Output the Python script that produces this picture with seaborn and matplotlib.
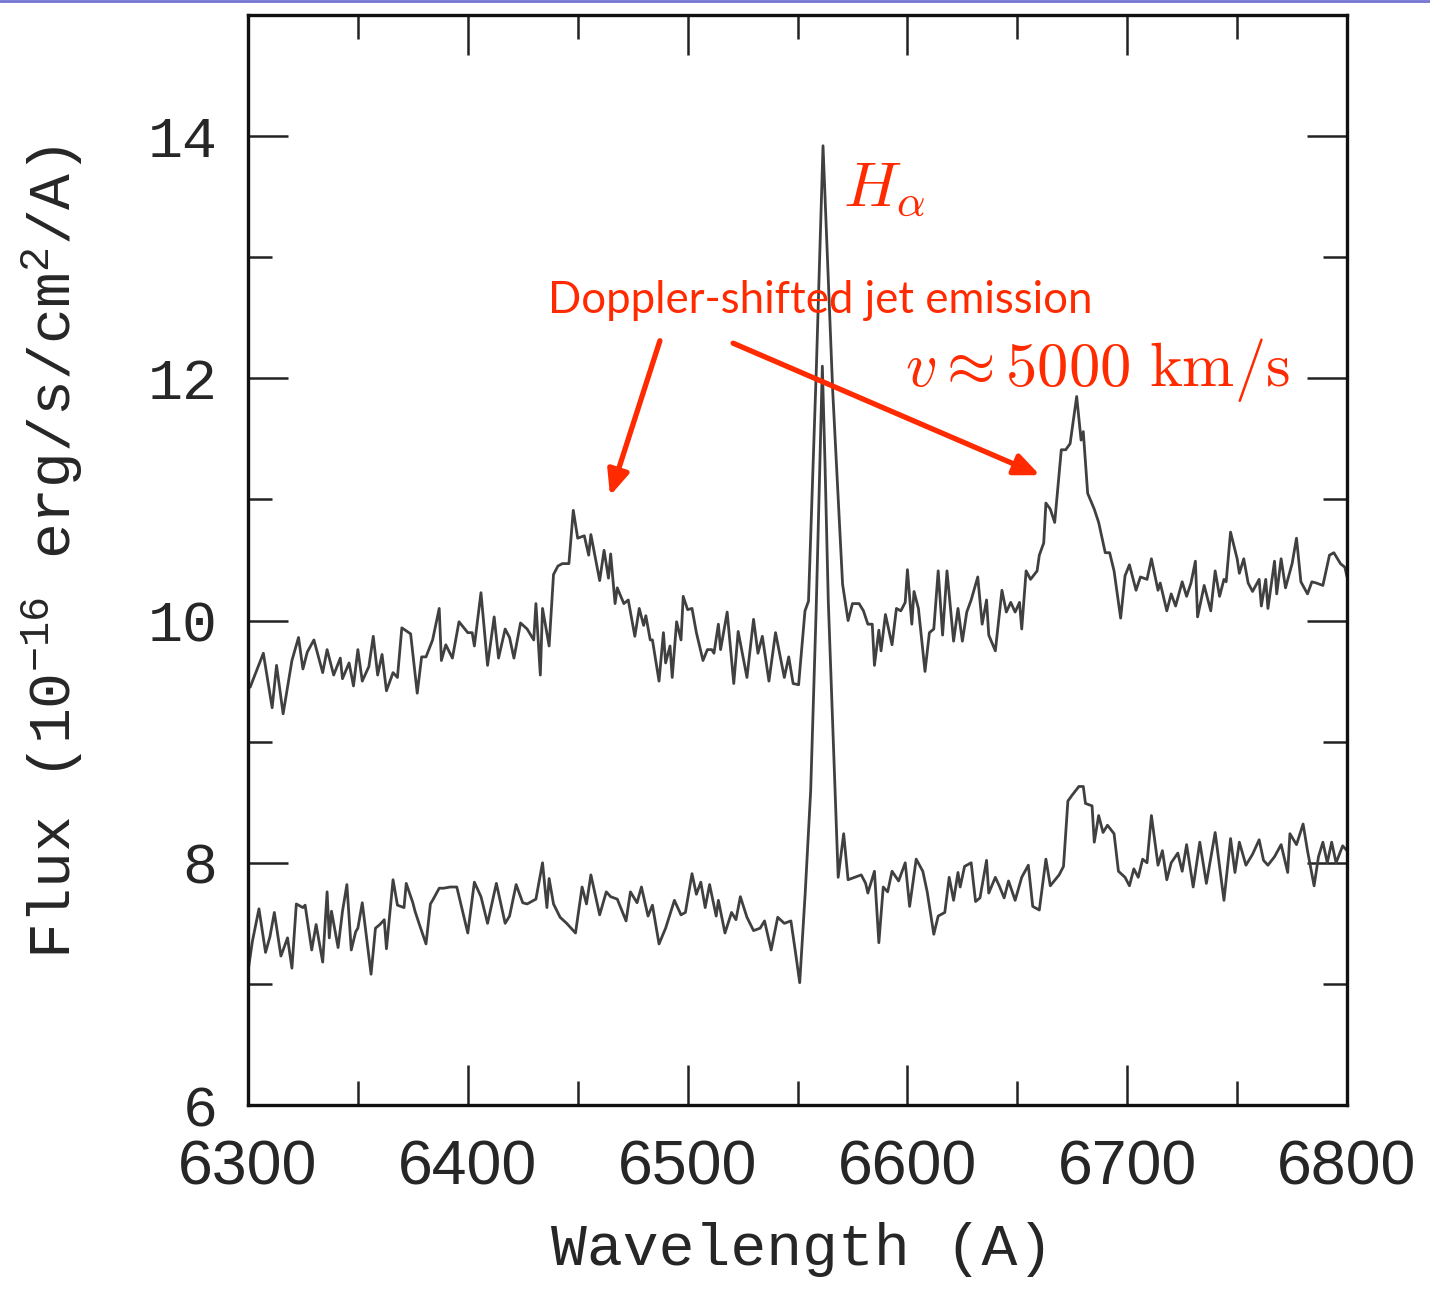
import numpy as np
import pandas as pd
import matplotlib
matplotlib.use("Agg")
import matplotlib.pyplot as plt
from matplotlib.lines import Line2D
import seaborn as sns

# Upper spectrum (with jet lines)
wl_top = [6300, 6301, 6307, 6311, 6313, 6316, 6320, 6323, 6325, 6327, 6330, 6334, 6336, 6339,
          6342, 6343, 6346, 6348, 6350, 6352, 6355, 6357, 6359, 6361, 6363, 6366, 6368, 6370,
          6374, 6377, 6379, 6381, 6384, 6387, 6388, 6390, 6393, 6396, 6400, 6402, 6403, 6406,
          6409, 6412, 6414, 6417, 6419, 6421, 6424, 6427, 6430, 6431, 6433, 6434, 6437, 6439,
          6441, 6443, 6446, 6448, 6450, 6453, 6455, 6456, 6460, 6462, 6464, 6465, 6467, 6468,
          6471, 6473, 6476, 6478, 6480, 6481, 6483, 6484, 6487, 6489, 6490, 6492, 6493, 6495,
          6497, 6498, 6500, 6502, 6504, 6507, 6509, 6511, 6512, 6514, 6515, 6518, 6521, 6523,
          6527, 6530, 6532, 6534, 6537, 6540, 6544, 6546, 6548, 6550.5, 6553.4, 6555, 6558.6,
          6561.6, 6566, 6570.5, 6572, 6573, 6575, 6578, 6580, 6582, 6584, 6585, 6587, 6588,
          6590, 6593, 6595, 6597, 6599, 6600, 6602, 6603, 6605, 6608, 6610, 6612, 6614, 6616,
          6618, 6621, 6623, 6625, 6627, 6629, 6632, 6634, 6636, 6637, 6640, 6643, 6645, 6647,
          6649, 6651, 6652, 6654, 6656, 6659, 6660, 6662, 6663, 6665, 6667, 6670, 6672, 6674,
          6677, 6679, 6680, 6682, 6685, 6687, 6690, 6692, 6694, 6697, 6699, 6701, 6704, 6706,
          6709, 6711, 6714, 6715, 6718, 6720, 6722, 6725, 6727, 6729, 6731, 6732, 6735, 6738,
          6740, 6742, 6744, 6745, 6747, 6750, 6751, 6753, 6755, 6757, 6760, 6761, 6763, 6764,
          6767, 6768, 6770, 6772, 6775, 6777, 6779, 6782, 6784, 6786, 6789, 6792, 6794, 6797,
          6799, 6800]
flux_top = [9.48, 9.45, 9.73, 9.28, 9.63, 9.23, 9.67, 9.86, 9.60, 9.74, 9.84, 9.57, 9.76, 9.55,
            9.69, 9.52, 9.65, 9.46, 9.76, 9.50, 9.62, 9.87, 9.55, 9.72, 9.42, 9.57, 9.53, 9.94,
            9.89, 9.40, 9.70, 9.70, 9.84, 10.10, 9.67, 9.80, 9.69, 9.99, 9.90, 9.90, 9.79, 10.23,
            9.63, 10.03, 9.69, 9.93, 9.86, 9.69, 9.98, 9.93, 9.84, 10.14, 9.55, 10.10, 9.79, 10.38,
            10.45, 10.47, 10.47, 10.91, 10.68, 10.70, 10.54, 10.71, 10.33, 10.58, 10.35, 10.55, 10.14, 10.27,
            10.14, 10.17, 9.87, 10.10, 9.96, 10.04, 9.84, 9.84, 9.50, 9.90, 9.65, 9.79, 9.53, 9.99,
            9.84, 10.20, 10.09, 10.10, 9.90, 9.67, 9.76, 9.76, 9.73, 9.97, 9.76, 10.07, 9.48, 9.91,
            9.53, 10.01, 9.73, 9.87, 9.50, 9.90, 9.53, 9.70, 9.48, 9.47, 10.08, 10.16, 12.10,
            13.92, 11.90, 10.30, 10.12, 10.00, 10.14, 10.14, 10.08, 9.97, 9.97, 9.63, 9.92, 9.75,
            10.05, 9.80, 10.10, 10.08, 10.15, 10.42, 9.97, 10.24, 10.10, 9.58, 9.90, 9.93, 10.41, 9.88,
            10.41, 9.83, 10.10, 9.83, 10.07, 10.17, 10.36, 9.97, 10.17, 9.88, 9.75, 10.25, 10.07, 10.15,
            10.07, 10.15, 9.93, 10.41, 10.34, 10.41, 10.54, 10.64, 10.97, 10.92, 10.81, 11.41, 11.41, 11.46,
            11.85, 11.49, 11.56, 11.05, 10.92, 10.81, 10.56, 10.56, 10.41, 10.02, 10.37, 10.46, 10.25, 10.36,
            10.34, 10.51, 10.25, 10.31, 10.08, 10.22, 10.12, 10.32, 10.20, 10.31, 10.49, 10.03, 10.29, 10.08,
            10.41, 10.20, 10.34, 10.32, 10.73, 10.51, 10.39, 10.51, 10.31, 10.24, 10.34, 10.12, 10.34, 10.10,
            10.49, 10.22, 10.51, 10.27, 10.47, 10.68, 10.32, 10.22, 10.32, 10.31, 10.29, 10.54, 10.56, 10.47,
            10.44, 10.36]

# Lower spectrum
wl_bot = [6300, 6302, 6305, 6308, 6310, 6312, 6315, 6318, 6320, 6322, 6325, 6326, 6329, 6331,
          6334, 6336, 6337, 6338, 6341, 6343, 6345, 6347, 6349, 6350, 6352, 6356, 6358, 6360,
          6362, 6363, 6366, 6368, 6371, 6372, 6375, 6376, 6378, 6381, 6383, 6384, 6387, 6389,
          6392, 6395, 6400, 6403, 6406, 6409, 6413, 6417, 6419, 6422, 6425, 6427, 6431, 6434,
          6436, 6437, 6439, 6442, 6445, 6449, 6452, 6454, 6456, 6460, 6463, 6465, 6468, 6472,
          6474, 6477, 6479, 6482, 6484, 6487, 6490, 6494, 6497, 6499, 6502, 6504, 6506, 6508,
          6510, 6513, 6514, 6517, 6520, 6522, 6524, 6527, 6530, 6533, 6535, 6538, 6541, 6544,
          6547, 6549, 6551, 6553.5, 6556, 6558.5, 6561.3, 6562.5, 6564, 6568.5, 6571, 6573, 6576,
          6579, 6581, 6582, 6585, 6587, 6589, 6591, 6593, 6596, 6599, 6601, 6604, 6607, 6609,
          6612, 6614, 6617, 6619, 6621, 6623, 6624, 6626, 6629, 6631, 6633, 6636, 6637, 6640,
          6642, 6644, 6646, 6649, 6652, 6655, 6657, 6660, 6663, 6665, 6669, 6671, 6673, 6675,
          6678, 6680, 6681, 6684, 6685, 6687, 6689, 6691, 6694, 6696, 6699, 6701, 6703, 6705,
          6707, 6709, 6711, 6714, 6716, 6718, 6720, 6723, 6725, 6727, 6730, 6733, 6736, 6740,
          6744, 6747, 6749, 6751, 6754, 6757, 6760, 6762, 6764, 6767, 6770, 6773, 6774, 6777,
          6780, 6782, 6785, 6787, 6789, 6791, 6793, 6795, 6798, 6800]
flux_bot = [7.10, 7.35, 7.62, 7.26, 7.39, 7.59, 7.23, 7.38, 7.13, 7.66, 7.63, 7.65, 7.28, 7.49,
            7.18, 7.76, 7.38, 7.60, 7.30, 7.60, 7.82, 7.28, 7.43, 7.46, 7.67, 7.08, 7.46, 7.49,
            7.53, 7.29, 7.86, 7.65, 7.63, 7.83, 7.67, 7.60, 7.49, 7.33, 7.66, 7.69, 7.79, 7.79,
            7.80, 7.80, 7.42, 7.84, 7.72, 7.50, 7.83, 7.50, 7.56, 7.82, 7.67, 7.66, 7.70, 8.00,
            7.63, 7.87, 7.66, 7.55, 7.50, 7.42, 7.80, 7.66, 7.90, 7.57, 7.76, 7.72, 7.70, 7.52,
            7.76, 7.67, 7.80, 7.56, 7.65, 7.33, 7.46, 7.69, 7.57, 7.59, 7.91, 7.74, 7.84, 7.63,
            7.82, 7.56, 7.69, 7.42, 7.59, 7.53, 7.72, 7.55, 7.44, 7.46, 7.52, 7.28, 7.55, 7.50,
            7.52, 7.27, 7.01, 7.75, 8.60, 10.10, 12.10, 11.30, 10.16, 7.88, 8.24, 7.86, 7.88,
            7.90, 7.83, 7.75, 7.93, 7.34, 7.80, 7.76, 7.93, 7.85, 8.00, 7.64, 8.03, 7.93, 7.76,
            7.41, 7.56, 7.59, 7.88, 7.69, 7.92, 7.80, 7.97, 8.00, 7.68, 7.71, 8.02, 7.75, 7.88,
            7.80, 7.71, 7.85, 7.69, 7.88, 7.98, 7.64, 7.61, 8.03, 7.81, 7.90, 7.97, 8.51, 8.56,
            8.63, 8.63, 8.49, 8.47, 8.17, 8.39, 8.25, 8.31, 8.24, 7.93, 7.88, 7.81, 7.95, 7.88,
            8.03, 8.00, 8.39, 7.98, 8.10, 7.86, 8.00, 8.08, 7.93, 8.15, 7.80, 8.17, 7.83, 8.25,
            7.69, 8.20, 7.92, 8.17, 7.98, 8.07, 8.19, 8.02, 7.98, 8.05, 8.15, 7.92, 8.24, 8.15,
            8.32, 8.10, 7.81, 8.05, 8.17, 8.00, 8.17, 8.00, 8.14, 8.10]

x_ticks = [6300, 6400, 6500, 6600, 6700, 6800]
y_ticks = [6, 8, 10, 12, 14]

red = "#ff2a00"
line_col = "#404040"

sns.set_style("ticks")
plt.rcParams["mathtext.fontset"] = "custom"
plt.rcParams["mathtext.rm"] = "Liberation Mono"
plt.rcParams["mathtext.it"] = "Liberation Mono:italic"
plt.rcParams["mathtext.bf"] = "Liberation Mono:bold"

fig = plt.figure(figsize=(14.3, 12.9), dpi=100)
ax = fig.add_axes([0.1734, 0.1434, 0.7686, 0.845])

top_df = pd.DataFrame({"wl": wl_top, "flux": flux_top})
bot_df = pd.DataFrame({"wl": wl_bot, "flux": flux_bot})
sns.lineplot(data=top_df, x="wl", y="flux", ax=ax, color=line_col, lw=2.0,
             estimator=None, sort=False)
sns.lineplot(data=bot_df, x="wl", y="flux", ax=ax, color=line_col, lw=2.0,
             estimator=None, sort=False)

ax.set_xlim(6300, 6800)
ax.set_ylim(6, 15)
ax.set_xticks(x_ticks)
ax.set_yticks(y_ticks)
ax.set_xticks(np.arange(6350, 6800, 100), minor=True)
ax.set_yticks([7, 9, 11, 13, 15], minor=True)
ax.tick_params(which="both", direction="in", top=True, right=True, width=1.8, color="#222222")
ax.tick_params(which="major", length=29)
ax.tick_params(which="minor", length=17)
ax.tick_params(axis="x", pad=24)
ax.tick_params(axis="y", pad=22)
for spine in ax.spines.values():
    spine.set_linewidth(2.4)
    spine.set_color("#111111")

for lab in ax.get_xticklabels():
    lab.set_fontfamily("Liberation Sans")
    lab.set_fontsize(45)
for lab in ax.get_yticklabels():
    lab.set_fontfamily("Liberation Mono")
    lab.set_fontsize(42)

ax.set_xlabel("Wavelength (A)", fontfamily="Liberation Mono", fontsize=43)
ax.set_ylabel("Flux (10$^{-16}$ erg/s/cm$^2$/A)", fontfamily="Liberation Mono", fontsize=43)
ax.xaxis.set_label_coords(0.504, -0.107)
ax.yaxis.set_label_coords(-0.148, 0.507)

# annotations
ax.text(6570.7, 13.42, r"$H_\alpha$", color=red, fontsize=46, math_fontfamily="cm",
        ha="left", va="baseline")
ax.text(6598.9, 11.94, r"$v \approx 5000\ \mathrm{km/s}$", color=red, fontsize=45,
        math_fontfamily="cm", ha="left", va="baseline")
ax.text(6436.5, 12.54, "Doppler-shifted jet emission", color=red, fontsize=31.5,
        fontfamily="Lato", ha="left", va="baseline")
arrow_kw = dict(arrowstyle="-|>,head_length=1.5,head_width=0.65", color=red, lw=3.8,
                shrinkA=0, shrinkB=0)
ax.annotate("", xy=(6464.7, 11.03), xytext=(6487.4, 12.31), arrowprops=arrow_kw)
ax.annotate("", xy=(6660.3, 11.20), xytext=(6520.7, 12.29), arrowprops=arrow_kw)

# thin slide header line at the top
fig.add_artist(Line2D([0, 1], [0.9995, 0.9995], transform=fig.transFigure,
                      color="#7373d2", lw=2))

fig.savefig("out.png", dpi=100)
